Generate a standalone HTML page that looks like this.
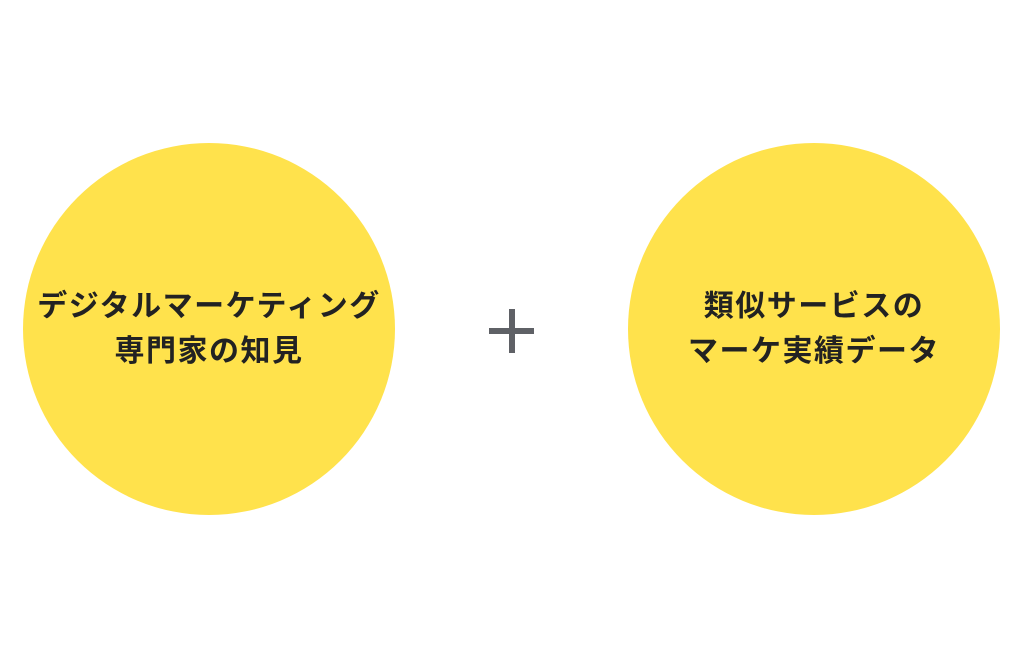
<!DOCTYPE html>
<html><head><meta charset="utf-8"><style>
html,body{margin:0;padding:0;background:#fff;}
body{width:1024px;height:658px;position:relative;overflow:hidden;font-family:"Liberation Sans","Noto Sans CJK JP",sans-serif;}
.c{position:absolute;width:372px;height:372px;border-radius:50%;background:#FFE24C;top:143px;display:flex;align-items:center;justify-content:center;text-align:center;font-weight:bold;font-size:30px;line-height:45px;color:#222;letter-spacing:1.5px;}
.h{position:absolute;background:#5f6166;}
</style></head><body>
<div class="c" style="left:23px;"><div>デジタルマーケティング<br>専門家の知見</div></div>
<div class="c" style="left:628px;"><div>類似サービスの<br>マーケ実績データ</div></div>
<div class="h" style="left:489px;top:328px;width:45px;height:6px;"></div>
<div class="h" style="left:509px;top:309px;width:6px;height:44px;"></div>
</body></html>
